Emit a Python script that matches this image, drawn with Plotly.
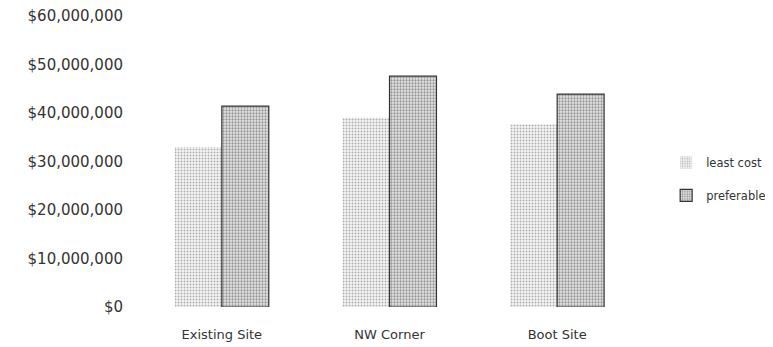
import plotly.graph_objects as go

sites = ["Existing Site", "NW Corner", "Boot Site"]
least_cost = [33000000, 39000000, 37700000]
preferable = [41400000, 47600000, 43900000]
y_ticks = [0, 10000000, 20000000, 30000000, 40000000, 50000000, 60000000]
y_tick_labels = ["$0", "$10,000,000", "$20,000,000", "$30,000,000",
                 "$40,000,000", "$50,000,000", "$60,000,000"]

fig = go.Figure()
fig.add_trace(go.Bar(
    x=sites, y=least_cost, name="least cost", legendgroup="a",
    marker=dict(color="white", line=dict(width=0),
                pattern=dict(shape=".", fgcolor="#666", bgcolor="#f6f6f6",
                             size=3, solidity=0.35)),
))
fig.add_trace(go.Bar(
    x=sites, y=preferable, name="preferable", legendgroup="b",
    marker=dict(color="white", line=dict(width=1.2, color="#333"),
                pattern=dict(shape=".", fgcolor="#444", bgcolor="#e6e6e6",
                             size=3, solidity=0.45)),
))

# page body adds ~8px offset, margins are set against that
fig.update_layout(
    width=773, height=347,
    margin=dict(l=130, r=140, t=8, b=48, autoexpand=False),
    paper_bgcolor="white", plot_bgcolor="white",
    font=dict(family="DejaVu Sans", size=14, color="#333"),
    barmode="group", bargap=0.44, bargroupgap=0,
    legend=dict(x=1.05, y=0.44, xanchor="left", yanchor="middle",
                font=dict(family="DejaVu Sans", size=11.5, color="#333"),
                itemwidth=30, tracegroupgap=14, traceorder="grouped",
                bgcolor="rgba(0,0,0,0)"),
    showlegend=True,
)
fig.update_yaxes(range=[0, 60000000], tickvals=y_ticks, ticktext=y_tick_labels,
                 tickfont=dict(size=15), showgrid=False, zeroline=False,
                 showline=False, ticklabelstandoff=14, automargin=False,
                 ticklabeloverflow="allow")
fig.update_xaxes(showgrid=False, showline=False, ticks="",
                 tickfont=dict(size=13), ticklabelstandoff=18, automargin=False)

fig.write_html("out.html")
